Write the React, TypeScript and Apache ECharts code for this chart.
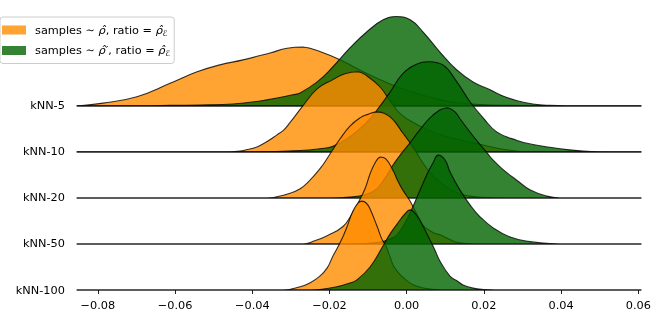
import React, { useEffect, useRef } from 'react';
import * as echarts from 'echarts';

const FONT = 'DejaVu Sans';

// Rows, listed bottom to top (value on the y axis = index)
const ROWS = ['kNN-100', 'kNN-50', 'kNN-20', 'kNN-10', 'kNN-5'];

// x-axis ticks
const X_MIN = -0.08;
const X_MAX = 0.06;
const X_STEP = 0.02;
// extent of the density estimates
const DATA_MIN = -0.0855;
const DATA_MAX = 0.0608;

// densities: [x, height in row units]
const orangeKnn5 = [
  [-0.0854, 0], [-0.0787, 0.06], [-0.0699, 0.2], [-0.0613, 0.49], [-0.0543, 0.74], [-0.0484, 0.89],
  [-0.0424, 1.0], [-0.0354, 1.15], [-0.031, 1.25], [-0.0269, 1.28], [-0.0225, 1.18], [-0.0173, 1.0],
  [-0.0095, 0.67], [-0.0017, 0.39], [0.0047, 0.22], [0.0112, 0.09], [0.019, 0.03], [0.0268, 0.01], [0.0397, 0],
];
const greenKnn5 = [
  [-0.0717, 0], [-0.0613, 0.01], [-0.0535, 0.02], [-0.045, 0.04], [-0.0362, 0.13], [-0.0295, 0.24],
  [-0.0276, 0.28], [-0.0232, 0.52], [-0.0191, 0.85], [-0.0147, 1.26], [-0.0103, 1.61], [-0.0061, 1.87],
  [-0.0028, 1.94], [0.0009, 1.87], [0.0042, 1.61], [0.0086, 1.17], [0.013, 0.78], [0.0172, 0.52],
  [0.0216, 0.35], [0.0242, 0.24], [0.0286, 0.11], [0.0327, 0.04], [0.0371, 0.01], [0.0423, 0],
];
const orangeKnn10 = [
  [-0.0466, 0], [-0.0398, 0.08], [-0.0367, 0.2], [-0.0336, 0.37], [-0.0318, 0.48], [-0.0302, 0.64],
  [-0.0269, 1.0], [-0.0232, 1.37], [-0.0191, 1.57], [-0.016, 1.7], [-0.0126, 1.74], [-0.0103, 1.65],
  [-0.0069, 1.41], [-0.0043, 1.11], [-0.0017, 0.83], [0.0027, 0.59], [0.0068, 0.43], [0.0112, 0.31],
  [0.0198, 0.15], [0.0242, 0.07], [0.0294, 0.01], [0.0345, 0],
];
const greenKnn10 = [
  [-0.0406, 0], [-0.0276, 0.03], [-0.0225, 0.07], [-0.0191, 0.12], [-0.0147, 0.33], [-0.0103, 0.65],
  [-0.0077, 0.91], [-0.0043, 1.3], [-0.001, 1.7], [0.0027, 1.91], [0.0055, 1.96], [0.0094, 1.89],
  [0.013, 1.52], [0.0164, 1.09], [0.0198, 0.74], [0.0234, 0.43], [0.0286, 0.25], [0.0327, 0.16],
  [0.0371, 0.1], [0.0415, 0.05], [0.0457, 0.02], [0.0501, 0.004], [0.0553, 0],
];
const orangeKnn20 = [
  [-0.0362, 0], [-0.0302, 0.1], [-0.0276, 0.2], [-0.0258, 0.32], [-0.0225, 0.63], [-0.0199, 0.95],
  [-0.0173, 1.28], [-0.0147, 1.56], [-0.0121, 1.74], [-0.0103, 1.81], [-0.0077, 1.87], [-0.0043, 1.76],
  [-0.001, 1.41], [0.0016, 1.11], [0.0042, 0.76], [0.0068, 0.48], [0.0099, 0.26], [0.013, 0.11],
  [0.0164, 0.04], [0.0203, 0.01], [0.0242, 0],
];
const greenKnn20 = [
  [-0.0199, 0], [-0.0147, 0.02], [-0.0108, 0.07], [-0.0082, 0.17], [-0.0061, 0.37], [-0.0035, 0.72],
  [-0.0017, 0.93], [0.0009, 1.2], [0.0034, 1.48], [0.0068, 1.8], [0.0104, 1.96], [0.0125, 1.87],
  [0.0138, 1.72], [0.0156, 1.52], [0.0182, 1.24], [0.0208, 0.98], [0.0224, 0.82], [0.0249, 0.62],
  [0.0286, 0.38], [0.0319, 0.18], [0.0363, 0.04], [0.0397, 0],
];
const orangeKnn50 = [
  [-0.0269, 0], [-0.0238, 0.07], [-0.0206, 0.18], [-0.0165, 0.38], [-0.0142, 0.65], [-0.0126, 0.89],
  [-0.0108, 1.2], [-0.0095, 1.52], [-0.0082, 1.76], [-0.0069, 1.89], [-0.0054, 1.85], [-0.0035, 1.59],
  [-0.0023, 1.37], [-0.001, 1.17], [0.0009, 0.93], [0.0022, 0.72], [0.0042, 0.41], [0.0068, 0.25],
  [0.0086, 0.2], [0.0104, 0.13], [0.0125, 0.05], [0.0151, 0.01], [0.0177, 0],
];
const greenKnn50 = [
  [-0.0173, 0], [-0.0108, 0.01], [-0.0069, 0.04], [-0.0043, 0.11], [-0.0025, 0.2], [0.0001, 0.54],
  [0.0027, 1.02], [0.0053, 1.52], [0.0068, 1.76], [0.0081, 1.93], [0.0099, 1.83], [0.0112, 1.57],
  [0.0138, 1.17], [0.0164, 0.85], [0.019, 0.59], [0.0224, 0.35], [0.0268, 0.15], [0.0319, 0.05],
  [0.0371, 0.01], [0.0397, 0],
];
const orangeKnn100 = [
  [-0.032, 0], [-0.0276, 0.07], [-0.0251, 0.15], [-0.0225, 0.3], [-0.0206, 0.48], [-0.0191, 0.74],
  [-0.0173, 1.02], [-0.0157, 1.32], [-0.0139, 1.72], [-0.0126, 1.89], [-0.0116, 1.93], [-0.0105, 1.89],
  [-0.0095, 1.76], [-0.0077, 1.39], [-0.0064, 1.1], [-0.0054, 0.96], [-0.0043, 0.72], [-0.0035, 0.54],
  [-0.0023, 0.39], [-0.001, 0.28], [0.0009, 0.15], [0.0027, 0.08], [0.006, 0.02], [0.0099, 0],
];
const greenKnn100 = [
  [-0.0251, 0], [-0.0225, 0.01], [-0.0181, 0.07], [-0.0147, 0.15], [-0.0129, 0.22], [-0.0095, 0.5],
  [-0.0061, 0.96], [-0.0043, 1.22], [-0.0025, 1.43], [-0.0007, 1.63], [0.0009, 1.74], [0.0027, 1.61],
  [0.0042, 1.39], [0.006, 1.09], [0.0073, 0.87], [0.0086, 0.63], [0.0112, 0.3], [0.013, 0.2],
  [0.0146, 0.11], [0.0172, 0.04], [0.0203, 0.01], [0.0229, 0],
];

// per row (bottom to top): [orange, green]
const CURVES = [
  [orangeKnn100, greenKnn100],
  [orangeKnn50, greenKnn50],
  [orangeKnn20, greenKnn20],
  [orangeKnn10, greenKnn10],
  [orangeKnn5, greenKnn5],
];

const ORANGE = 'rgba(255,140,0,0.8)';
const GREEN = 'rgba(0,100,0,0.8)';
const EDGE = 'rgba(0,0,0,0.8)';
const NAME_P = 'p';
const NAME_P2 = 'p2';

function curveSeries(name: string, color: string, offset: number, curve: number[][]) {
  const full = [[DATA_MIN, 0], ...curve, [DATA_MAX, 0]];
  return {
    type: 'custom',
    name,
    coordinateSystem: 'cartesian2d',
    clip: false,
    silent: true,
    itemStyle: { color },
    data: [[DATA_MIN, offset]],
    encode: { x: 0, y: 1 },
    renderItem: (params: any, api: any) => {
      const pts = full.map(([x, h]) => api.coord([x, offset + h]));
      return {
        type: 'polygon',
        shape: { points: pts, smooth: 0.45, smoothConstraint: [pts[0], pts[0]] },
        style: { fill: color, stroke: EDGE, lineWidth: 1.1 },
      };
    },
  };
}

export default function App() {
  const ref = useRef<HTMLDivElement>(null);
  useEffect(() => {
    if (!ref.current) return;
    const chart = echarts.init(ref.current, undefined, { renderer: 'svg' });
    const series: any[] = [];
    for (let r = ROWS.length - 1; r >= 0; r--) {
      series.push(curveSeries(NAME_P, ORANGE, r, CURVES[r][0]));
      series.push(curveSeries(NAME_P2, GREEN, r, CURVES[r][1]));
    }
    chart.setOption({
      animation: false,
      grid: { left: 97.9, right: 25.7, top: 0, bottom: 42 },
      xAxis: {
        type: 'value',
        min: X_MIN,
        max: X_MAX,
        interval: X_STEP,
        offset: 4,
        axisLine: { show: false },
        axisTick: { show: true, length: 4, lineStyle: { color: '#222', width: 1 } },
        splitLine: { show: false },
        axisLabel: {
          margin: 6,
          fontFamily: FONT,
          fontSize: 11.3,
          color: '#000',
          formatter: (v: number) => (v < -1e-9 ? '\u2212' : '') + Math.abs(v).toFixed(2),
        },
      },
      yAxis: {
        type: 'value',
        min: 0,
        max: 6.3,
        interval: 1,
        axisLine: { show: false },
        axisTick: { show: false },
        splitLine: { show: false },
        axisLabel: {
          margin: 33,
          fontFamily: FONT,
          fontSize: 11.3,
          color: '#000',
          formatter: (v: number) => ROWS[v] ?? '',
        },
      },
      legend: {
        left: 0,
        top: 17,
        orient: 'vertical',
        icon: 'rect',
        itemWidth: 24,
        itemHeight: 9,
        itemGap: 6.5,
        padding: [6, 4, 6, 2],
        backgroundColor: 'rgba(255,255,255,0.8)',
        borderColor: '#cccccc',
        borderWidth: 1,
        borderRadius: 3,
        data: [
          { name: NAME_P, itemStyle: { color: ORANGE, borderWidth: 0 } },
          { name: NAME_P2, itemStyle: { color: GREEN, borderWidth: 0 } },
        ],
        formatter: (name: string) =>
          name === NAME_P
            ? '{a|samples \u223C }{i|\u03C1\u0302}{a|, ratio = }{i|\u03C1\u0302}{s|\u2130}'
            : '{a|samples \u223C }{i|\u03C1\u0302\u2032}{a|, ratio = }{i|\u03C1\u0302}{s|\u2130}',
        textStyle: {
          padding: [0, 0, 0, 4],
          fontFamily: FONT,
          fontSize: 11.3,
          color: '#000',
          rich: {
            a: { fontFamily: FONT, fontSize: 11.3, color: '#000', lineHeight: 14 },
            i: { fontFamily: FONT, fontSize: 11.3, fontStyle: 'italic', color: '#000', lineHeight: 14 },
            s: { fontFamily: FONT, fontSize: 8, fontStyle: 'italic', color: '#000', lineHeight: 14, padding: [6, 0, 0, 0] },
          },
        },
      },
      series,
    });
    return () => chart.dispose();
  }, []);
  return <div ref={ref} style={{ position: 'fixed', left: 0, top: 0, width: 664, height: 332 }} />;
}
